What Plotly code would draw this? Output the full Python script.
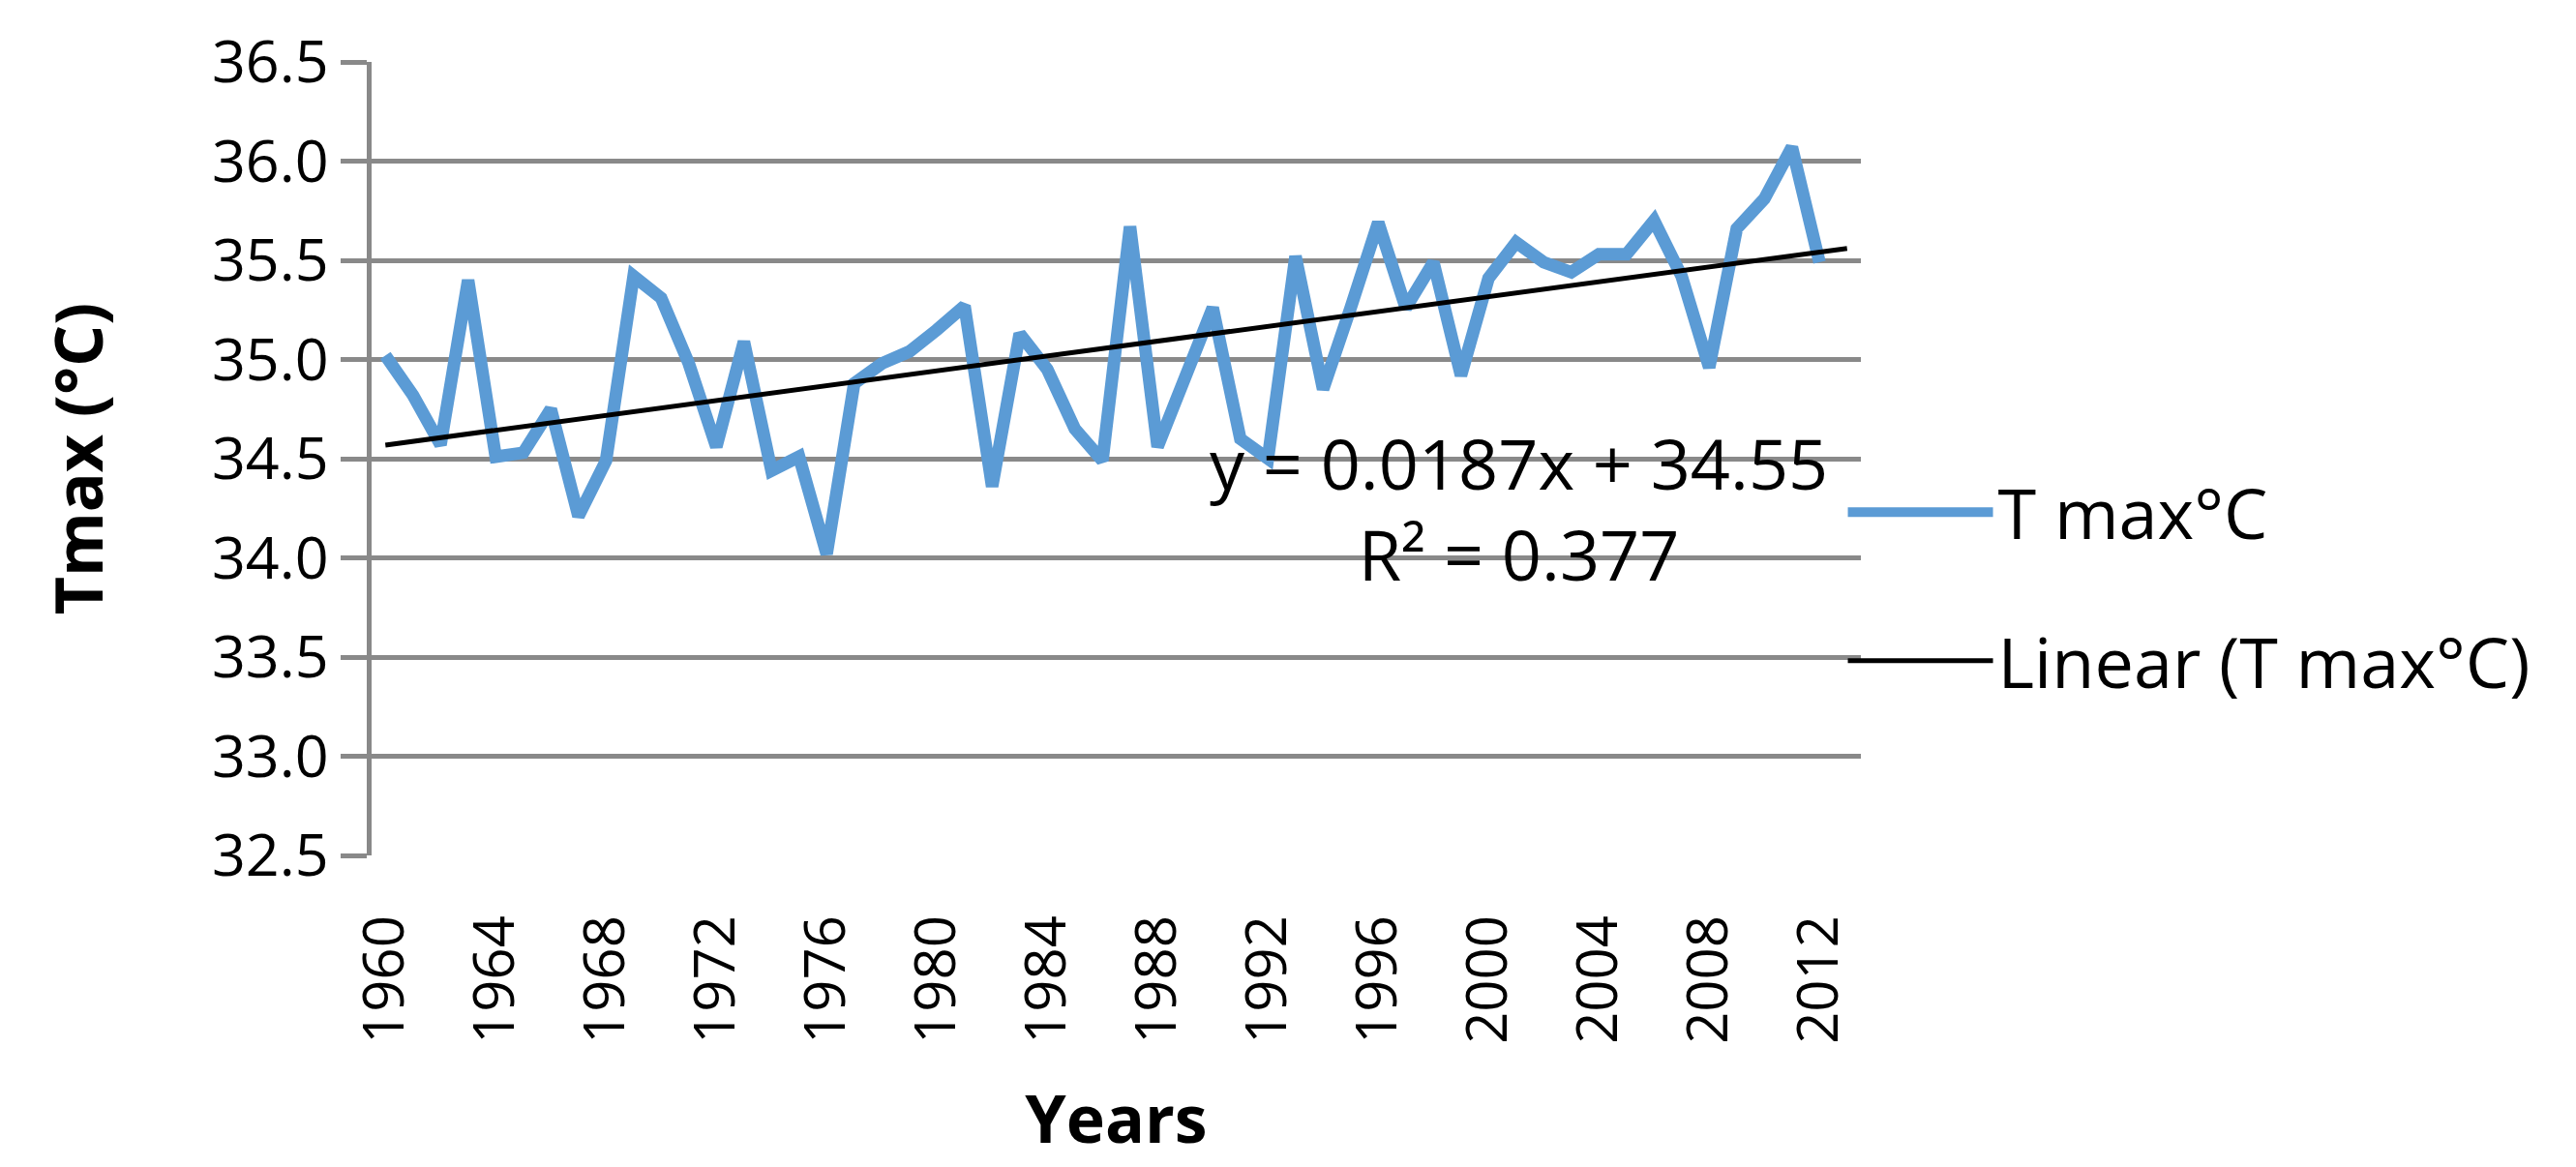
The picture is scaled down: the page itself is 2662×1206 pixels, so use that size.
import plotly.graph_objects as go

# ---- data ----
years = list(range(1960, 2013))
tmax = [35.02, 34.82, 34.57, 35.40, 34.51, 34.53, 34.75, 34.21, 34.49, 35.42,
        35.31, 34.98, 34.56, 35.09, 34.44, 34.51, 34.02, 34.88, 34.98, 35.04,
        35.15, 35.27, 34.36, 35.13, 34.95, 34.65, 34.49, 35.67, 34.56, 34.92,
        35.26, 34.60, 34.50, 35.52, 34.85, 35.26, 35.69, 35.26, 35.49, 34.92,
        35.41, 35.59, 35.49, 35.44, 35.53, 35.53, 35.70, 35.42, 34.96, 35.66,
        35.81, 36.07, 35.49]
trend_slope = 0.0187
trend_intercept = 34.55
trend_years = list(range(1960, 2014))  # Excel trendline with 1 period forecast
x_ticks = list(range(1960, 2013, 4))
y_ticks = [32.5, 33.0, 33.5, 34.0, 34.5, 35.0, 35.5, 36.0, 36.5]

trend_vals = [trend_intercept + trend_slope * (i + 1) for i in range(len(trend_years))]

FONT = "Open Sans"
GRID = "#898989"

fig = go.Figure()
fig.add_trace(go.Scatter(
    x=years, y=tmax, mode="lines", name="T max°C",
    line=dict(color="#5B9BD5", width=13), legendgroup="a"))
fig.add_trace(go.Scatter(
    x=trend_years, y=trend_vals, mode="lines", name="Linear (T max°C)",
    line=dict(color="#000000", width=5), legendgroup="b"))

fig.add_annotation(
    x=2001.1, y=34.25, xref="x", yref="y",
    text="y = 0.0187x + 34.55<br>R² = 0.377",
    showarrow=False, align="center",
    font=dict(family=FONT, size=72, color="#000000"))

fig.update_layout(
    width=2662, height=1206,
    margin=dict(l=376, r=747, t=53, b=330, pad=0),
    paper_bgcolor="white", plot_bgcolor="white",
    font=dict(family=FONT, color="#000000", size=60),
    showlegend=True,
    legend=dict(x=0.988, xanchor="left", y=0.3385, yanchor="middle",
                font=dict(family=FONT, size=72, color="#000000"),
                itemwidth=150, tracegroupgap=57, traceorder="grouped",
                bgcolor="rgba(0,0,0,0)", itemsizing="trace"),
)

fig.update_xaxes(
    range=[1959.5, 2013.5], tickmode="array", tickvals=x_ticks,
    ticktext=[str(v) for v in x_ticks], tickangle=-90,
    showgrid=False, zeroline=False, showline=False,
    ticks="outside", ticklen=38, tickcolor="rgba(0,0,0,0)",
    tickfont=dict(family=FONT, size=58, color="#000000"),
    title=dict(text="<b>Years</b>", font=dict(family=FONT, size=68, color="#000000"), standoff=55))

fig.update_yaxes(
    range=[32.5, 36.5], tickmode="array", tickvals=y_ticks,
    ticktext=[f"{v:.1f}" for v in y_ticks],
    showgrid=True, gridcolor=GRID, gridwidth=4.7,
    zeroline=False, showline=True, linecolor=GRID, linewidth=5.3,
    ticks="outside", ticklen=27, tickwidth=4.7, tickcolor=GRID,
    tickfont=dict(family=FONT, size=61, color="#000000"),
    title=dict(text="<b>Tmax (°C)</b>", font=dict(family=FONT, size=68, color="#000000"), standoff=92))

fig.write_html("out.html")
